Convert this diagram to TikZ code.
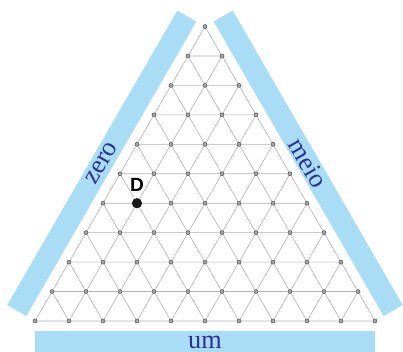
\documentclass[tikz,border=0pt]{standalone}
\usepackage{fontspec}
\setmainfont{Liberation Serif}
\setsansfont{Liberation Sans}
\usetikzlibrary{positioning}
\definecolor{BandBlue}{HTML}{A8DDF5}
\definecolor{LabelBlue}{HTML}{2E3192}

\begin{document}
\begin{tikzpicture}[x=1cm,y=1cm,
  band/.style={fill=BandBlue,draw=none},
  side/.style={font=\fontsize{22}{24}\selectfont,text=LabelBlue,inner sep=0pt},
  pt/.style={circle,draw=black!75,fill=black!35,line width=0.35pt,
    minimum size=0.12cm,inner sep=0pt},
  big/.style={circle,fill=black!90,minimum size=0.3cm,inner sep=0pt},
  grid/.style={black!30,line width=0.5pt},
  tag/.style={font=\sffamily\bfseries\fontsize{16}{18}\selectfont,inner sep=0pt}]
  \useasboundingbox (-1.029,-0.912) rectangle (10.824,9.441);
  \clip (-1.029,-0.912) rectangle (10.824,9.441);
  % bands round the triangle
  \fill[band] (0,-0.294) rectangle (10,-0.941);
  \node[side] (um) at (5,-0.618) {um};
  \begin{scope}[rotate=60]
    \fill[band] (0,0.294) rectangle (10,0.941);
    \node[side,rotate=60] (zero) at (5,0.618) {zero};
  \end{scope}
  \begin{scope}[shift={(5,8.66)},rotate=-60]
    \fill[band] (0,0.294) rectangle (10,0.941);
    \node[side,rotate=-60] (meio) at (5,0.618) {meio};
  \end{scope}
  % lattice points
  \foreach \k in {0,...,10}{
    \foreach \i in {0,...,\k}{
      \node[pt] (p-\k-\i) at ({5-0.5*\k+\i},{0.866*(10-\k)}) {};
    }
  }
  % lattice lines
  \foreach \k [evaluate=\k as \n using int(\k+1)] in {0,...,9}{
    \foreach \i [evaluate=\i as \j using int(\i+1)] in {0,...,\k}{
      \draw[grid] (p-\k-\i) -- (p-\n-\i) -- (p-\n-\j) -- (p-\k-\i);
    }
  }
  \node[big] (D) at (p-6-1) {};
  \node[tag,above=0.18cm of D] (Dlab) {D};
\end{tikzpicture}
\end{document}
